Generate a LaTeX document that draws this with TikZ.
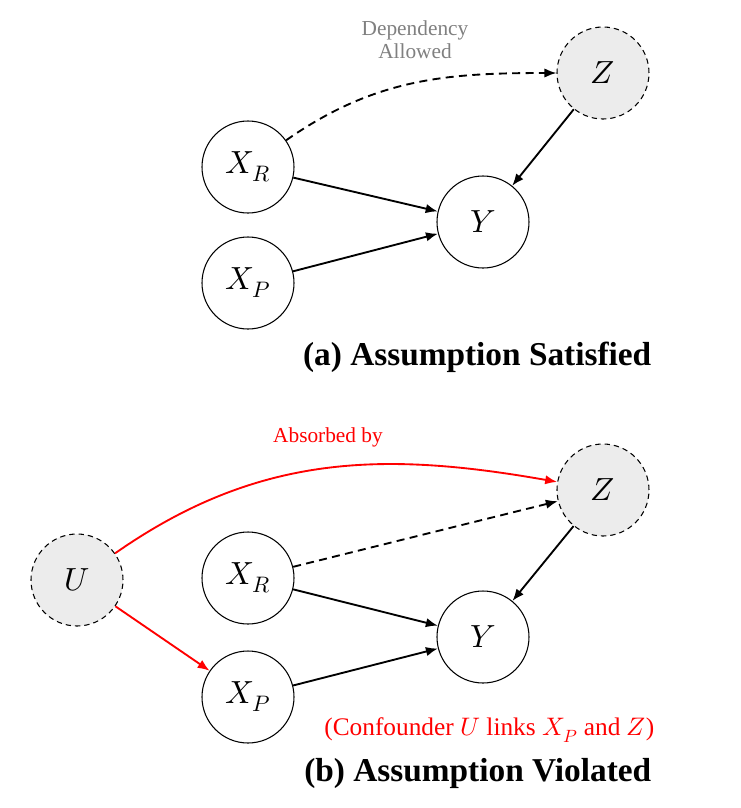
\documentclass[tikz,border=0pt]{standalone}
\usepackage{fontspec}
\setmainfont{Liberation Serif}
\usepackage{unicode-math}
\setmathfont{Latin Modern Math}
\usetikzlibrary{arrows.meta}
\begin{document}
\begin{tikzpicture}[x=0.75pt,y=-0.75pt,
  v/.style={circle,draw,line width=0.8pt,minimum size=92*0.75pt,inner sep=0pt,font=\fontsize{24}{27}\selectfont},
  lat/.style={v,dash pattern=on 4pt off 3pt,fill=gray!15},
  e/.style={-{Latex[length=9pt,width=7pt]},line width=1.4pt},
  de/.style={e,dash pattern=on 6pt off 4pt},
  ttl/.style={font=\fontsize{25}{28}\selectfont\bfseries,anchor=east},
  lbl/.style={font=\fontsize{16}{17}\selectfont,align=center}]
\useasboundingbox (0,0) rectangle (741,808);
% (a)
\node[v] (xr) at (248,167) {$X_R$};
\node[v] (xp) at (248,283) {$X_P$};
\node[v] (y) at (483,222) {$Y$};
\node[lat] (z) at (603,73) {$Z$};
\draw[de] (xr) to[out=35,in=180] (z);
\draw[e] (xr) -- (y);
\draw[e] (xp) -- (y);
\draw[e] (z) -- (y);
\node[lbl,text=gray] (dl) at (415,40) {Dependency\\Allowed};
\node[ttl] (ta) at (656,357) {(a) Assumption Satisfied};
% (b)
\node[lat] (u) at (77,580) {$U$};
\node[v] (xr2) at (248,578) {$X_R$};
\node[v] (xp2) at (248,697) {$X_P$};
\node[v] (y2) at (483,637) {$Y$};
\node[lat] (z2) at (603,490) {$Z$};
\draw[de] (xr2) -- (z2);
\draw[e] (xr2) -- (y2);
\draw[e] (xp2) -- (y2);
\draw[e] (z2) -- (y2);
\draw[e,red] (u) to[out=35,in=170] (z2);
\draw[e,red] (u) -- (xp2);
\node[lbl,text=red] (ab) at (328,437) {Absorbed by};
\node[font=\fontsize{19}{21}\selectfont,text=red,anchor=east] (cf) at (659,730) {(Confounder $U$ links $X_P$ and $Z$)};
\node[ttl] (tb) at (656,773) {(b) Assumption Violated};
\end{tikzpicture}
\end{document}
